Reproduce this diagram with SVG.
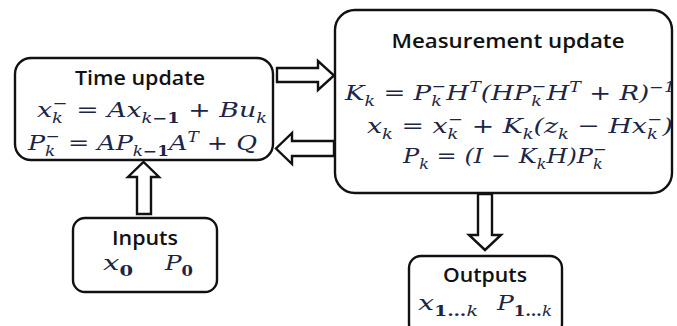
<svg xmlns="http://www.w3.org/2000/svg" width="677" height="326" viewBox="0 0 677 326">
<style>
.box{fill:#fff;stroke:#111;stroke-width:2.4}
.arr{fill:#fff;stroke:#111;stroke-width:2.4;stroke-linejoin:miter}
.t{font-family:"Open Sans","Liberation Sans",sans-serif;font-weight:600;font-size:19px;fill:#111;text-anchor:middle}
.eq{font-family:"DejaVu Serif","Liberation Serif",serif;font-style:italic;font-size:21px;fill:#1c2644}
.s{font-size:14px}
.n{font-style:normal;font-weight:bold}
</style>
<rect width="677" height="326" fill="#fff"/>
<g id="connectors">
<polygon class="arr" points="277,68 318,68 318,61 334,75.5 318,90 318,82 277,82"/>
<polygon class="arr" points="334,141 292,141 292,133 276,148.5 292,164 292,156 334,156"/>
<polygon class="arr" points="137,214 137,177 128,177 143.5,162 159,177 151,177 151,214"/>
<polygon class="arr" points="478,194 478,235 469,235 485,250 501,235 492,235 492,194"/>
</g>
<g id="time">
<rect class="box" x="15" y="58" width="258" height="102" rx="16"/>
<text class="t" x="140" y="85" textLength="130" lengthAdjust="spacingAndGlyphs">Time update</text>
<text class="eq" x="37" y="117" textLength="230" lengthAdjust="spacingAndGlyphs">x<tspan class="s" baseline-shift="-6">k</tspan><tspan class="s" dx="-8" baseline-shift="9">−</tspan> = Ax<tspan class="s" baseline-shift="-6">k<tspan class="n">−1</tspan></tspan> + Bu<tspan class="s" baseline-shift="-6">k</tspan></text>
<text class="eq" x="28" y="150" textLength="229" lengthAdjust="spacingAndGlyphs">P<tspan class="s" baseline-shift="-6">k</tspan><tspan class="s" dx="-8" baseline-shift="9">−</tspan> = AP<tspan class="s" baseline-shift="-6">k<tspan class="n">−1</tspan></tspan>A<tspan class="s" baseline-shift="8">T</tspan> + Q</text>
</g>
<g id="measurement">
<rect class="box" x="335" y="10" width="337" height="183" rx="20"/>
<text class="t" x="508" y="48" textLength="233" lengthAdjust="spacingAndGlyphs">Measurement update</text>
<text class="eq" x="345" y="100" textLength="330" lengthAdjust="spacingAndGlyphs">K<tspan class="s" baseline-shift="-6">k</tspan> = P<tspan class="s" baseline-shift="-6">k</tspan><tspan class="s" dx="-8" baseline-shift="9">−</tspan>H<tspan class="s" baseline-shift="8">T</tspan>(HP<tspan class="s" baseline-shift="-6">k</tspan><tspan class="s" dx="-8" baseline-shift="9">−</tspan>H<tspan class="s" baseline-shift="8">T</tspan> + R)<tspan class="s" baseline-shift="8">−1</tspan></text>
<text class="eq" x="367" y="133" textLength="306" lengthAdjust="spacingAndGlyphs">x<tspan class="s" baseline-shift="-6">k</tspan> = x<tspan class="s" baseline-shift="-6">k</tspan><tspan class="s" dx="-8" baseline-shift="9">−</tspan> + K<tspan class="s" baseline-shift="-6">k</tspan>(z<tspan class="s" baseline-shift="-6">k</tspan> − Hx<tspan class="s" baseline-shift="-6">k</tspan><tspan class="s" dx="-8" baseline-shift="9">−</tspan>)</text>
<text class="eq" x="403" y="163" textLength="204" lengthAdjust="spacingAndGlyphs">P<tspan class="s" baseline-shift="-6">k</tspan> = (I − K<tspan class="s" baseline-shift="-6">k</tspan>H)P<tspan class="s" baseline-shift="-6">k</tspan><tspan class="s" dx="-8" baseline-shift="9">−</tspan></text>
</g>
<g id="inputs">
<rect class="box" x="73" y="218" width="144" height="74" rx="12"/>
<text class="t" x="145" y="245" textLength="66" lengthAdjust="spacingAndGlyphs">Inputs</text>
<text class="eq" x="103" y="270" textLength="30" lengthAdjust="spacingAndGlyphs">x<tspan class="s n" font-size="16" baseline-shift="-6">0</tspan></text>
<text class="eq" x="165" y="270" textLength="28" lengthAdjust="spacingAndGlyphs">P<tspan class="s n" font-size="16" baseline-shift="-6">0</tspan></text>
</g>
<g id="outputs">
<rect class="box" x="409" y="256" width="153" height="80" rx="12"/>
<text class="t" x="485" y="282" textLength="84" lengthAdjust="spacingAndGlyphs">Outputs</text>
<text class="eq" x="418" y="310" textLength="60" lengthAdjust="spacingAndGlyphs">x<tspan class="s" baseline-shift="-6"><tspan class="n">1…</tspan>k</tspan></text>
<text class="eq" x="497" y="310" textLength="55" lengthAdjust="spacingAndGlyphs">P<tspan class="s" baseline-shift="-6"><tspan class="n">1…</tspan>k</tspan></text>
</g>
</svg>
